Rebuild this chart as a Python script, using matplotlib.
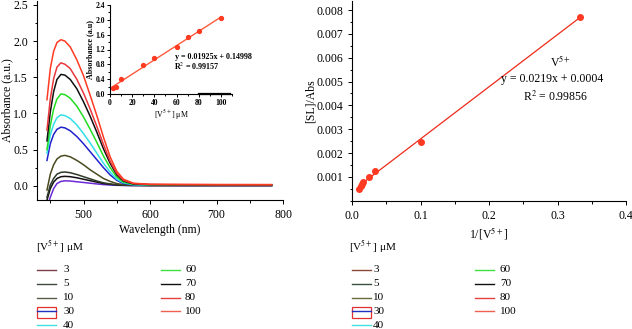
import matplotlib
matplotlib.use("Agg")
import matplotlib.pyplot as plt
from matplotlib.lines import Line2D
from matplotlib.patches import Rectangle
from matplotlib.ticker import MultipleLocator

plt.rcParams['font.family'] = ['Liberation Serif', 'DejaVu Serif']
plt.rcParams['mathtext.fontset'] = 'stix'

# ---------------- data ----------------
wavelength = [445, 450, 455, 460, 466, 472, 480, 490, 500, 510, 520, 530, 540, 550, 560, 575, 600, 650, 700, 783]

abs_100 = [1.19, 1.62, 1.86, 1.98, 2.02, 2.00, 1.92, 1.74, 1.52, 1.25, 0.97, 0.67, 0.40, 0.20, 0.09, 0.035, 0.020, 0.018, 0.016, 0.015]
abs_80 = [0.77, 1.20, 1.48, 1.64, 1.70, 1.68, 1.62, 1.47, 1.28, 1.06, 0.82, 0.57, 0.34, 0.17, 0.075, 0.030, 0.018, 0.016, 0.015, 0.015]
abs_70 = [0.62, 1.02, 1.30, 1.47, 1.54, 1.53, 1.47, 1.34, 1.16, 0.96, 0.74, 0.51, 0.31, 0.15, 0.065, 0.025, 0.015, 0.012, 0.012, 0.012]
abs_60 = [0.50, 0.83, 1.06, 1.20, 1.27, 1.26, 1.21, 1.10, 0.95, 0.78, 0.60, 0.41, 0.25, 0.12, 0.050, 0.020, 0.012, 0.010, 0.010, 0.010]
abs_40 = [0.45, 0.70, 0.85, 0.94, 0.98, 0.97, 0.93, 0.84, 0.72, 0.59, 0.45, 0.31, 0.19, 0.09, 0.040, 0.015, 0.010, 0.008, 0.008, 0.008]
abs_30 = [0.35, 0.58, 0.71, 0.78, 0.81, 0.80, 0.76, 0.68, 0.58, 0.47, 0.36, 0.25, 0.15, 0.075, 0.030, 0.012, 0.008, 0.006, 0.006, 0.006]
abs_10 = [-0.06, 0.16, 0.29, 0.37, 0.41, 0.42, 0.40, 0.35, 0.29, 0.22, 0.16, 0.10, 0.06, 0.03, 0.015, 0.008, 0.006, 0.005, 0.005, 0.005]
abs_5 = [-0.16, 0.01, 0.10, 0.16, 0.185, 0.19, 0.18, 0.155, 0.125, 0.095, 0.065, 0.04, 0.025, 0.013, 0.008, 0.005, 0.004, 0.004, 0.004, 0.004]
abs_3 = [-0.20, -0.04, 0.05, 0.10, 0.125, 0.13, 0.125, 0.11, 0.09, 0.07, 0.05, 0.03, 0.02, 0.01, 0.006, 0.004, 0.003, 0.003, 0.003, 0.003]
abs_blank = [-0.30, -0.16, -0.04, 0.03, 0.06, 0.068, 0.065, 0.055, 0.045, 0.035, 0.025, 0.016, 0.010, 0.006, 0.004, 0.003, 0.002, 0.002, 0.002, 0.002]

spectra = [abs_blank, abs_3, abs_5, abs_10, abs_30, abs_40, abs_60, abs_70, abs_80, abs_100]
spectra_colors = ['#6a2ad8', '#111111', '#2d3a28', '#4a4a20', '#2222cc', '#33e0e6',
                  '#22dd22', '#111111', '#e8383c', '#ff3a22']

# inset calibration
inset_conc = [3, 5, 10, 30, 40, 60, 70, 80, 100]
inset_abs = [0.15, 0.19, 0.40, 0.78, 0.97, 1.27, 1.53, 1.70, 2.04]
inset_slope = 0.01925
inset_intercept = 0.14998
inset_fit_range = [2, 100]

# double reciprocal plot
recip_conc = [0.010, 0.0125, 0.0143, 0.0167, 0.025, 0.0333, 0.1, 0.333]
sl_abs = [0.00048, 0.00060, 0.00068, 0.00078, 0.00100, 0.00124, 0.00248, 0.00770]
bh_slope = 0.0219
bh_intercept = 0.0004
bh_fit_range = [0.01, 0.333]

x2_ticks = [0.0, 0.1, 0.2, 0.3, 0.4]
x2_ticklabels = ['0.0', '0.1', '0.2', '0.3', '0.4']
y2_ticks = [0.001, 0.002, 0.003, 0.004, 0.005, 0.006, 0.007, 0.008]
y2_ticklabels = ['0.001', '0.002', '0.003', '0.004', '0.005', '0.006', '0.007', '0.008']

legend_labels = ['3', '5', '10', '30', '40', '60', '70', '80', '100']
legend_colors_left = ['#7b3f4a', '#3d4a3d', '#5a5a4a', '#2030c0', '#40e0e0',
                      '#40e040', '#101010', '#e84040', '#f06050']
legend_colors_right = ['#8a4a3a', '#3a5040', '#6a6a40', '#2030c0', '#40e0e0',
                       '#40e040', '#101010', '#e84040', '#f06050']

# ---------------- figure ----------------
W, H = 632, 329
fig = plt.figure(figsize=(W / 100, H / 100), dpi=100)


def rect(x0, y0, x1, y1):
    return [x0 / W, 1 - y1 / H, (x1 - x0) / W, (y1 - y0) / H]


def style(ax, fs=8.5):
    for s in ['top', 'right']:
        ax.spines[s].set_visible(False)
    ax.tick_params(which='both', direction='out', labelsize=fs, width=0.7)
    ax.tick_params(which='major', length=3)
    ax.tick_params(which='minor', length=1.8)
    for s in ['left', 'bottom']:
        ax.spines[s].set_linewidth(0.8)


# left spectra
ax1 = fig.add_axes(rect(37, 1, 283, 200.2))
for ys, c in zip(spectra, spectra_colors):
    ax1.plot(wavelength, ys, color=c, lw=1.1)
ax1.set_xlim(430, 800)
ax1.set_ylim(-0.2, 2.555)
ax1.set_xticks([500, 600, 700, 800])
ax1.xaxis.set_minor_locator(MultipleLocator(50))
ax1.set_yticks([0, 0.5, 1.0, 1.5, 2.0, 2.5])
ax1.yaxis.set_minor_locator(MultipleLocator(0.25))
style(ax1)
ax1.set_xlabel('Wavelength (nm)', fontsize=8.5, labelpad=2)
ax1.set_ylabel('Absorbance (a.u.)', fontsize=8.5)
ax1.yaxis.set_label_coords((13 - 37) / 246, 0.5)

# inset
axi = fig.add_axes(rect(110, 5, 232, 94))
axi.plot(inset_fit_range,
         [inset_slope * v + inset_intercept for v in inset_fit_range],
         color='#ff5a3c', lw=1.0)
axi.plot(inset_conc, inset_abs, 'o', color='#ff3a22', ms=2.8)
axi.plot([80, 108], [0, 0], color='black', lw=1.6, clip_on=False)
axi.set_xlim(0, 110)
axi.set_ylim(0, 2.4)
axi.set_xticks([0, 20, 40, 60, 80, 100])
axi.xaxis.set_minor_locator(MultipleLocator(10))
axi.set_yticks([0.0, 0.4, 0.8, 1.2, 1.6, 2.0, 2.4])
axi.yaxis.set_minor_locator(MultipleLocator(0.2))
style(axi, fs=5.5)
axi.tick_params(which='major', length=2, pad=1.5)
axi.tick_params(which='minor', length=1.2)
for lab in axi.get_xticklabels() + axi.get_yticklabels():
    lab.set_fontweight('bold')
axi.set_xlabel('[V$^{5+}$] \u03bcM', fontsize=5.8, labelpad=1)
axi.set_ylabel('Absorbance (a.u)', fontsize=5.8, fontweight='bold', labelpad=1)
axi.text((213 - 110) / 122, (94 - 57) / 89, 'y = 0.01925x + 0.14998', transform=axi.transAxes,
         fontsize=5.8, fontweight='bold', ha='center', va='center')
axi.text((197 - 110) / 122, (94 - 66) / 89, 'R$^2$ = 0.99157', transform=axi.transAxes,
         fontsize=5.8, fontweight='bold', ha='center', va='center')

# right double reciprocal
ax2 = fig.add_axes(rect(352, 1, 626, 200.7))
ax2.plot(bh_fit_range, [bh_slope * v + bh_intercept for v in bh_fit_range],
         color='#ee2a1a', lw=0.9)
ax2.plot(recip_conc, sl_abs, 'o', color='#ff3a22', ms=4)
ax2.set_xlim(0, 0.4)
ax2.set_ylim(0, 0.00838)
ax2.set_xticks(x2_ticks)
ax2.set_xticklabels(x2_ticklabels)
ax2.xaxis.set_minor_locator(MultipleLocator(0.05))
ax2.set_yticks(y2_ticks)
ax2.set_yticklabels(y2_ticklabels)
ax2.yaxis.set_minor_locator(MultipleLocator(0.0005))
style(ax2)
ax2.set_xlabel('1/[V$^{5+}$]', fontsize=8.5, labelpad=2)
ax2.set_ylabel('[SL]/Abs', fontsize=8.5)
ax2.yaxis.set_label_coords((317 - 352) / 274, 0.5)
fig.text(561 / W, 1 - 62 / H, 'V$^{5+}$', fontsize=8.5, ha='center', va='center')
fig.text(552 / W, 1 - 79 / H, 'y = 0.0219x + 0.0004', fontsize=8.5, ha='center', va='center')
fig.text(555 / W, 1 - 97 / H, 'R$^2$ = 0.99856', fontsize=8.5, ha='center', va='center')

# legends below the plots
row_y = [270, 283.7, 297.5, 311.3, 325.2]


def draw_legend(x_title, x_line1, x_line2, x_text1, x_text2, colors):
    fig.text(x_title / W, 1 - 247 / H, '[V$^{5+}$] \u03bcM', fontsize=8, ha='left', va='center')
    for i, (lab, col) in enumerate(zip(legend_labels, colors)):
        if i < 5:
            r, xl, xt = i, x_line1, x_text1
        else:
            r, xl, xt = i - 5, x_line2, x_text2
        y = 1 - row_y[r] / H
        fig.add_artist(Line2D([xl / W, (xl + 18.5) / W], [y, y], color=col, lw=1.0,
                              transform=fig.transFigure))
        fig.text(xt / W, y, lab, fontsize=8, ha='left', va='center')
        if lab == '30':
            fig.add_artist(Rectangle(((xl - 0.5) / W, 1 - 317.7 / H), 19.5 / W, 11 / H,
                                     fill=False, edgecolor='#e03030', lw=0.9,
                                     transform=fig.transFigure))


draw_legend(36.5, 37, 161, 63, 185, legend_colors_left)
draw_legend(349, 352, 475, 373, 500, legend_colors_right)

fig.savefig('out.png', dpi=100)
